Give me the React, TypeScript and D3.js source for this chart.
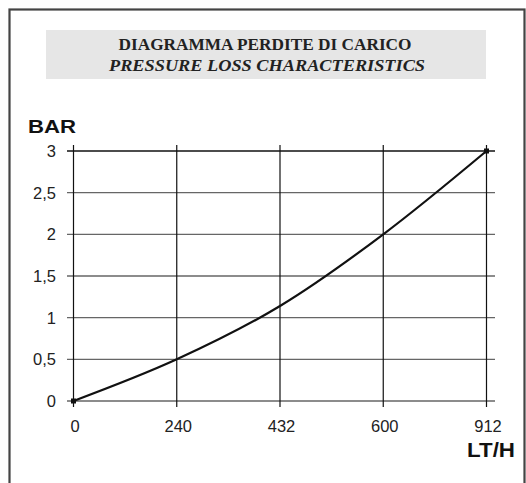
import { useRef, useEffect } from 'react'
import * as d3 from 'd3'

// flow rate ticks (LT/H) - drawn equally spaced like in the original
const flowLabels = ['0', '240', '432', '600', '912']
// pressure loss at each flow tick (BAR)
const pressure = [0, 0.5, 1.14, 2, 3]
const barTicks = [0, 0.5, 1, 1.5, 2, 2.5, 3]

const W = 526
const H = 483

const App = () => {
  const gRef = useRef<SVGGElement>(null)

  useEffect(() => {
    const g = d3.select(gRef.current)
    g.selectAll('*').remove()

    const x = d3.scalePoint<string>().domain(flowLabels).range([73.5, 486.5]).padding(0)
    const y = d3.scaleLinear().domain([0, 3]).range([401, 151])

    // horizontal grid
    g.append('g')
      .selectAll('line')
      .data(barTicks)
      .join('line')
      .attr('x1', 67)
      .attr('x2', 495)
      .attr('y1', d => y(d))
      .attr('y2', d => y(d))
      .attr('stroke', d => (d === 3 ? '#111' : '#666'))
      .attr('stroke-width', 1.3)

    // vertical grid
    g.append('g')
      .selectAll('line')
      .data(flowLabels)
      .join('line')
      .attr('x1', d => x(d)!)
      .attr('x2', d => x(d)!)
      .attr('y1', y(3) - 6)
      .attr('y2', y(0) + 6)
      .attr('stroke', '#111')
      .attr('stroke-width', 1.2)

    // y tick labels
    g.append('g')
      .selectAll('text')
      .data(barTicks)
      .join('text')
      .attr('x', 56)
      .attr('y', d => y(d))
      .attr('dy', '0.36em')
      .attr('text-anchor', 'end')
      .attr('font-family', 'Liberation Sans, Arial, sans-serif')
      .attr('font-size', 16.5)
      .attr('fill', '#222')
      .text(d => String(d).replace('.', ','))

    // x tick labels
    g.append('g')
      .selectAll('text')
      .data(flowLabels)
      .join('text')
      .attr('x', d => x(d)! + 1.5)
      .attr('y', 432)
      .attr('text-anchor', 'middle')
      .attr('font-family', 'Liberation Sans, Arial, sans-serif')
      .attr('font-size', 16.5)
      .attr('fill', '#222')
      .text(d => d)

    const pts = flowLabels.map((f, i) => [x(f)!, y(pressure[i])] as [number, number])

    const line = d3.line().curve(d3.curveMonotoneX)
    g.append('path')
      .attr('d', line(pts))
      .attr('fill', 'none')
      .attr('stroke', '#111')
      .attr('stroke-width', 2.2)

    // end markers
    g.append('g')
      .selectAll('rect')
      .data([pts[0], pts[pts.length - 1]])
      .join('rect')
      .attr('x', d => d[0] - 2.5)
      .attr('y', d => d[1] - 2.5)
      .attr('width', 5)
      .attr('height', 5)
      .attr('fill', '#111')
  })

  return (
    <svg
      width={W}
      height={H}
      style={{ position: 'absolute', left: 0, top: 0, background: '#fff' }}
    >
      {/* frame */}
      <rect x={9.5} y={9.5} width={515} height={490} fill="none" stroke="#444" strokeWidth={2.2} />
      {/* title box */}
      <rect x={46} y={30} width={440} height={49} fill="#e6e6e6" />
      <text
        x={265}
        y={50}
        textAnchor="middle"
        fontFamily="Liberation Serif, Times New Roman, serif"
        fontWeight="bold"
        fontSize={17}
        textLength={293}
        lengthAdjust="spacingAndGlyphs"
        fill="#222"
      >
        DIAGRAMMA PERDITE DI CARICO
      </text>
      <text
        x={267}
        y={70.5}
        textAnchor="middle"
        fontFamily="Liberation Serif, Times New Roman, serif"
        fontWeight="bold"
        fontStyle="italic"
        fontSize={17}
        textLength={316}
        lengthAdjust="spacingAndGlyphs"
        fill="#222"
      >
        PRESSURE LOSS CHARACTERISTICS
      </text>
      <text
        x={28}
        y={133}
        fontFamily="Liberation Sans, Arial, sans-serif"
        fontWeight="bold"
        fontSize={18}
        textLength={48}
        lengthAdjust="spacingAndGlyphs"
        fill="#111"
      >
        BAR
      </text>
      <text
        x={467}
        y={457}
        fontFamily="Liberation Sans, Arial, sans-serif"
        fontWeight="bold"
        fontSize={20}
        textLength={48}
        lengthAdjust="spacingAndGlyphs"
        fill="#111"
      >
        LT/H
      </text>
      <g ref={gRef} />
    </svg>
  )
}

export default App
